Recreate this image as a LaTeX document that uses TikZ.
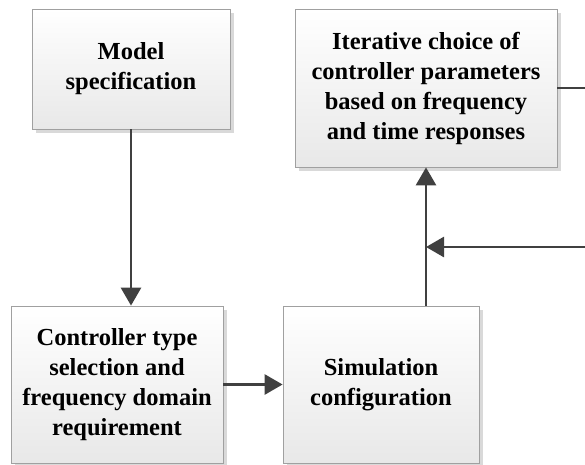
\documentclass[tikz,border=0pt]{standalone}
\usepackage{fontspec}
\setmainfont{Liberation Serif}
\usepackage{tikz}
\usetikzlibrary{arrows.meta, calc, shadows, positioning}
\definecolor{linegray}{RGB}{64, 64, 64}
\definecolor{edgegray}{RGB}{160, 160, 160}
\definecolor{shadegray}{RGB}{232, 232, 232}

\tikzset{
  stagebox/.style={draw=edgegray, line width=0.8pt, top color=white, bottom color=shadegray,
    align=center, inner sep=0pt, font=\fontsize{24.5}{30}\selectfont\bfseries,
    drop shadow={shadow xshift=4pt, shadow yshift=-4pt, fill=black!15, opacity=1}},
  flow/.style={draw=linegray, line width=2.8pt, -{Triangle[length=18pt, width=20pt]}},
  plain/.style={draw=linegray, line width=2.8pt}
}

\begin{document}
\begin{tikzpicture}[x=1pt, y=-1pt]

  \useasboundingbox (0, 0) rectangle (585, 464);

  % Boxes
  \node[stagebox, minimum width=198pt, minimum height=120pt] (model) at (131, 69)
    {Model\\specification};
  \node[stagebox, minimum width=262pt, minimum height=158pt] (iter) at (426, 88)
    {Iterative choice of\\controller parameters\\based on frequency\\and time responses};
  \node[stagebox, minimum width=212pt, minimum height=157pt] (ctrl) at (117, 384.5)
    {Controller type\\selection and\\frequency domain\\requirement};
  \node[stagebox, minimum width=196pt, minimum height=157pt] (sim) at (381, 384.5)
    {Simulation\\configuration};

  % Free ends on the right
  \coordinate (exitR) at (590, 88);
  \coordinate (backR) at (590, 247);
  \coordinate (join)  at (426, 247);

  % Arrows
  \draw[flow] (model.south) -- (model.south |- ctrl.north);
  \draw[flow] (ctrl.east) -- (sim.west);
  \draw[flow] (sim.north -| iter.south) -- (iter.south);
  \draw[flow] (backR) -- (join);
  \draw[plain] (iter.east) -- (exitR);

\end{tikzpicture}
\end{document}
